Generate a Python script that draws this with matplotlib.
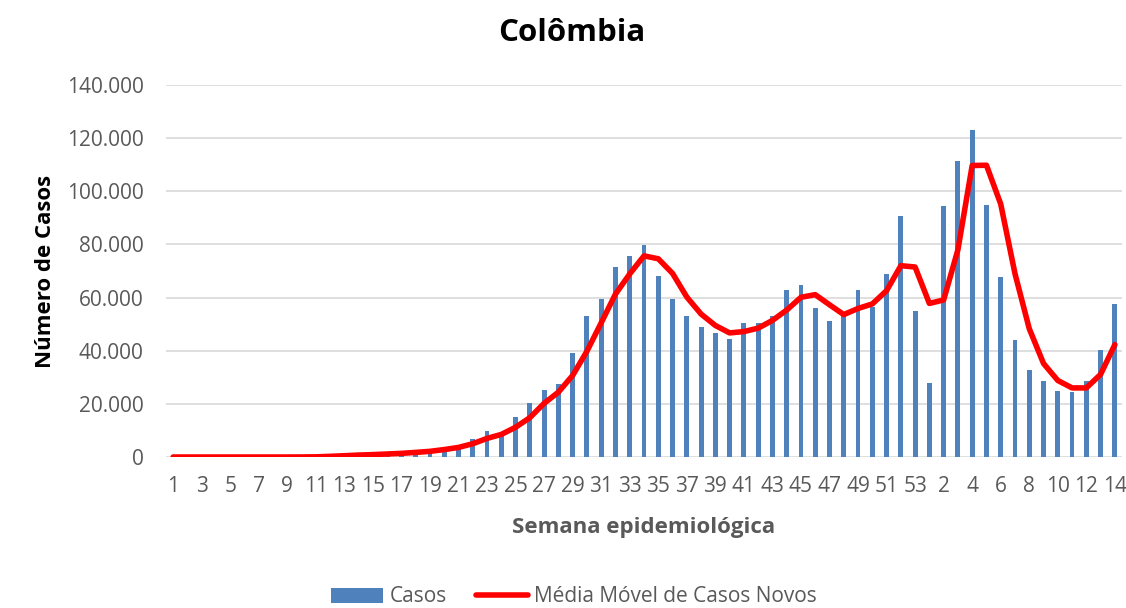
import matplotlib.pyplot as plt
from matplotlib.ticker import FuncFormatter

plt.rcParams['font.family'] = ['Open Sans', 'DejaVu Sans']

# semanas epidemiológicas: 2020 (1-53) e 2021 (1-14)
semanas = list(range(1, 54)) + list(range(1, 15))

casos = [0, 0, 0, 0, 0, 0, 0, 0, 0, 30,
         120, 400, 500, 700, 900, 1100, 1300, 1600, 2400, 3600,
         4600, 6900, 9600, 9000, 14900, 20300, 25300, 27600, 39100, 52900,
         59400, 71500, 75800, 79800, 68200, 59400, 52900, 49100, 46600, 44400,
         50600, 50600, 52900, 62700, 64600, 56000, 51300, 53600, 62700, 56500,
         68700, 90800, 54900,
         27800, 94600, 111500, 122900, 95000, 67700, 44200, 32900, 28600, 25000,
         24300, 28700, 40400, 57700]

media_movel = [0, 0, 0, 0, 0, 0, 0, 0, 0, 10,
               60, 250, 480, 730, 900, 1130, 1370, 1730, 2130, 2800,
               3600, 5000, 7000, 8500, 11200, 14800, 20200, 24400, 30700, 39800,
               50500, 61300, 68900, 75700, 74600, 69100, 60200, 53800, 49500, 46700,
               47200, 48500, 51400, 55300, 60100, 61100, 57300, 53600, 55900, 57600,
               62600, 72000, 71500,
               57800, 59100, 78000, 109700, 109800, 95200, 69000, 48300, 35200, 28800,
               26000, 26000, 31100, 42300]

x = list(range(len(semanas)))

fig = plt.figure(figsize=(11.26, 6.08), dpi=100)
ax = fig.add_axes([166 / 1126, 1 - 457 / 608, 956 / 1126, 372 / 608])

barras = ax.bar(x, casos, width=0.34, color='#4F81BD', label='Casos', zorder=2)
linha, = ax.plot(x, media_movel, color='#FF0000', lw=4, solid_joinstyle='round',
                 solid_capstyle='round', label='Média Móvel de Casos Novos', zorder=3)

ax.set_xlim(-0.5, len(x) - 0.5)
ax.set_ylim(0, 140000)
ax.set_yticks(range(0, 140001, 20000))
ax.yaxis.set_major_formatter(FuncFormatter(lambda v, p: f'{int(v):,}'.replace(',', '.')))
ax.set_xticks(x[::2])
ax.set_xticklabels([str(s) for s in semanas[::2]])

ax.grid(axis='y', color='#D9D9D9', lw=1.2, zorder=0)
ax.set_axisbelow(True)
for s in ax.spines.values():
    s.set_visible(False)
ax.tick_params(axis='both', length=0, labelsize=15, labelcolor='#595959')
ax.tick_params(axis='y', pad=16)
ax.tick_params(axis='x', pad=14)

ax.set_xlabel('Semana epidemiológica', fontsize=16, fontweight='bold',
              color='#595959', labelpad=14)
ax.set_ylabel('Número de Casos', fontsize=16, fontweight='bold', color='black',
              labelpad=8)
fig.text(572 / 1126, 1 - 33 / 608, 'Colômbia', fontsize=22.5, fontweight='bold',
         ha='center', va='center')

fig.legend([barras, linha], ['Casos', 'Média Móvel de Casos Novos'],
           loc='center', bbox_to_anchor=(574 / 1126, 1 - 597 / 608), ncol=2,
           frameon=False, fontsize=15, handlelength=2.5, handletextpad=0.3,
           columnspacing=1.4, labelcolor='#595959')

fig.savefig('out.png', dpi=100)
